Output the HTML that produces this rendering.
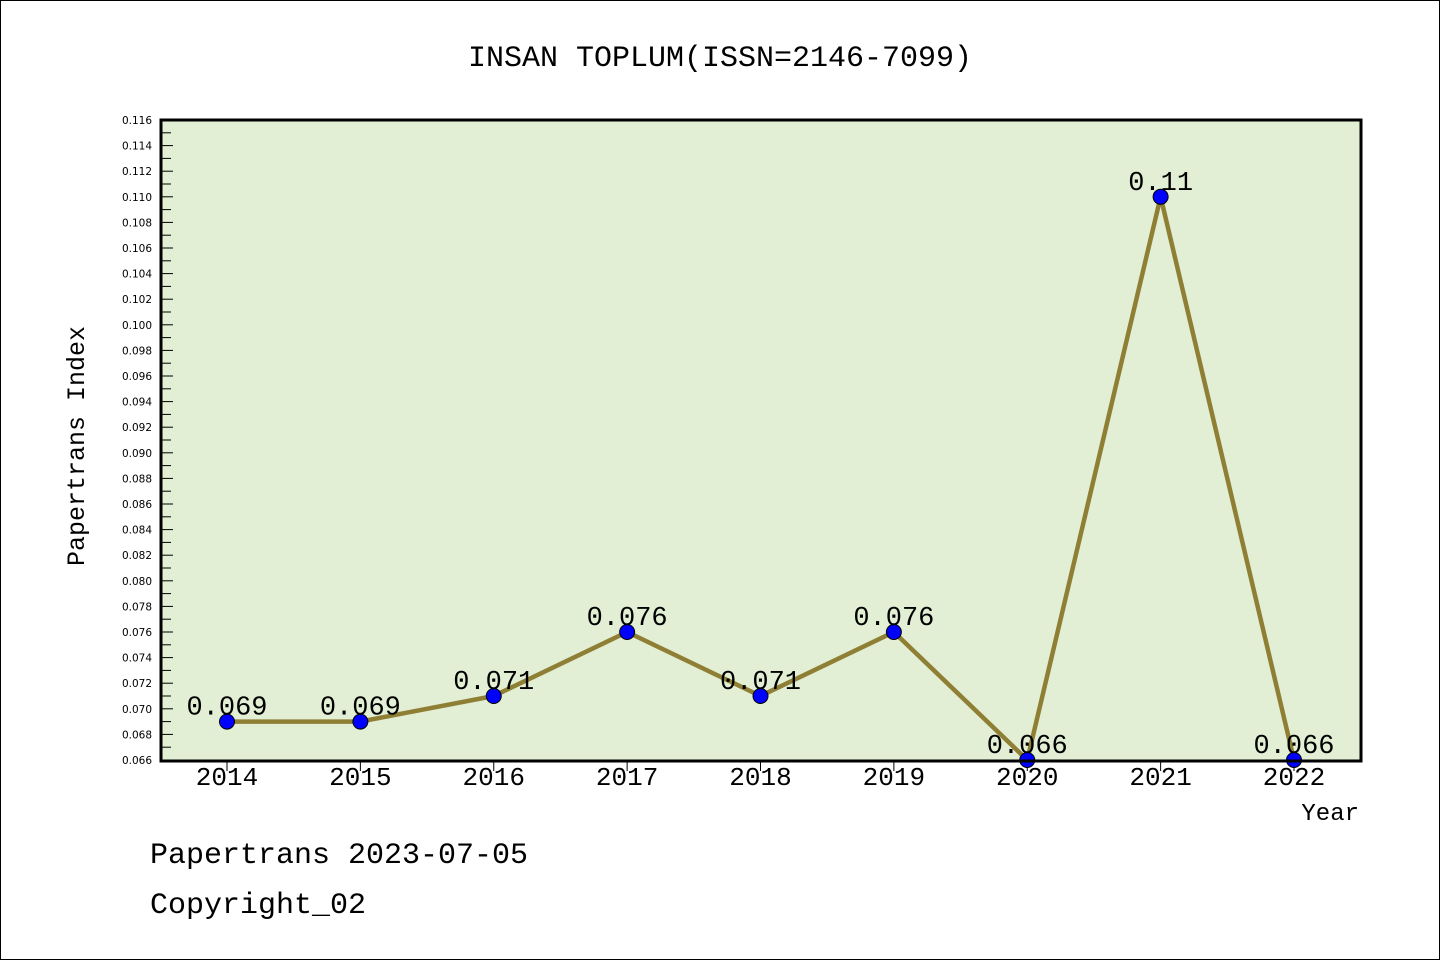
<!DOCTYPE html>
<html><head><meta charset="utf-8"><style>
html,body{margin:0;padding:0;background:#fff}
svg{display:block}
text{font-family:"Liberation Mono","WenQuanYi Zen Hei",monospace;fill:#000}
.yt{font-family:"DejaVu Sans","Liberation Sans",sans-serif;font-size:10.5px}
</style></head><body>
<svg id="chart" width="1440" height="960" xmlns="http://www.w3.org/2000/svg">
<rect x="0.5" y="0.5" width="1439" height="959" fill="#fff" stroke="#000"/>
<text x="720" y="66" text-anchor="middle" font-size="30">INSAN TOPLUM(ISSN=2146-7099)</text>
<rect x="161" y="120" width="1200" height="641" fill="#e2efd4"/>
<g id="yticks"></g><g id="xticks"></g>
<path id="series-line" fill="none" stroke="#8f7f35" stroke-width="4.5" stroke-linejoin="round"/>
<g id="points"></g>
<rect x="161" y="120" width="1200" height="641" fill="none" stroke="#000" stroke-width="3"/>
<text transform="translate(84,446) rotate(-90)" text-anchor="middle" font-size="25">Papertrans Index</text>
<text x="1359" y="820" text-anchor="end" font-size="24">Year</text>
<text x="150" y="863" font-size="30">Papertrans 2023-07-05</text>
<text x="150" y="913" font-size="30">Copyright_02</text>
</svg>
<script>
const years=["2014","2015","2016","2017","2018","2019","2020","2021","2022"];
const values=[0.069,0.069,0.071,0.076,0.071,0.076,0.066,0.11,0.066];
const valueLabels=["0.069","0.069","0.071","0.076","0.071","0.076","0.066","0.11","0.066"];
const yMin=0.066,yMax=0.116;
const NS="http://www.w3.org/2000/svg";
function sx(i){return 227+i*(1294-227)/(years.length-1);}
function sy(v){return 760-(v-yMin)/(yMax-yMin)*640;}
function mk(t,a,p){const e=document.createElementNS(NS,t);for(const k in a)e.setAttribute(k,a[k]);p.appendChild(e);return e;}
const yg=document.getElementById('yticks');
for(let k=0;k<=50;k++){
 const v=yMin+k*0.001,y=sy(v);
 const major=k%2===0;
 const t=mk('line',{x1:161,x2:161+(major?12:10),y1:y,y2:y,stroke:'#000','stroke-width':1},yg);
 
 
 if(major){
  const l=mk('text',{x:152,y:y+4,'text-anchor':'end',class:'yt'},yg);
  l.textContent=v.toFixed(3);
  
  
 }
}
const xg=document.getElementById('xticks');
years.forEach((yr,i)=>{
 const x=sx(i);
 const t=mk('line',{x1:x,x2:x,y1:761,y2:771,stroke:'#000','stroke-width':1},xg);
 
 
 const l=mk('text',{x:x,y:785,'text-anchor':'middle','font-size':26},xg);
 l.textContent=yr;
 
 
});
document.getElementById('series-line').setAttribute('d',values.map((v,i)=>(i?'L':'M')+sx(i)+','+sy(v)).join(''));
const pg=document.getElementById('points');
values.forEach((v,i)=>{
 const c=mk('circle',{cx:sx(i),cy:sy(v),r:7.5,fill:'#0000ff',stroke:'#000','stroke-width':1},pg);
 
 
 const l=mk('text',{x:sx(i),y:sy(v)-7,'text-anchor':'middle','font-size':27},pg);
 l.textContent=valueLabels[i];
 
 
});
</script>
</body></html>
